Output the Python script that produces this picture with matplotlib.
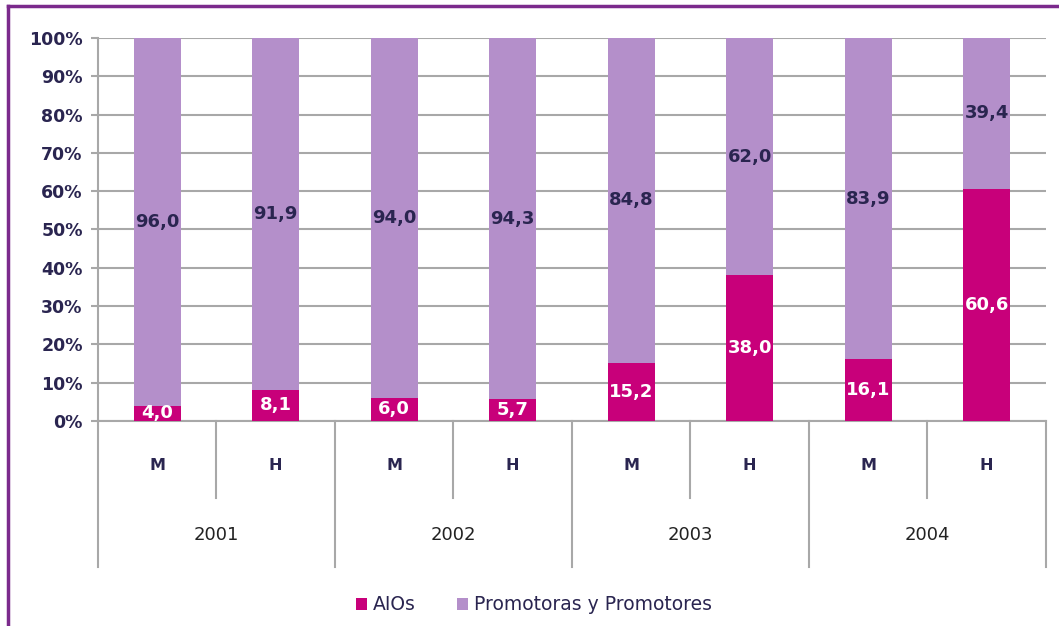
import numpy as np
import matplotlib.pyplot as plt
from matplotlib.lines import Line2D

years = ["2001", "2002", "2003", "2004"]
sexes = ["M", "H", "M", "H", "M", "H", "M", "H"]
aios = [4.0, 8.1, 6.0, 5.7, 15.2, 38.0, 16.1, 60.6]
promotores = [96.0, 91.9, 94.0, 94.3, 84.8, 62.0, 83.9, 39.4]

c_aios = "#c8007a"
c_prom = "#b48fca"
navy = "#2a2550"
grid_c = "#a8a8a8"

plt.rcParams['font.family'] = ['DejaVu Sans']

fig = plt.figure(figsize=(10.59, 6.26), dpi=100)
ax = fig.add_axes([0.0925, 0.3275, 0.8952, 0.6118])

x = np.arange(len(sexes)) + 0.5
b1 = ax.bar(x, aios, width=0.4, color=c_aios, label="AIOs", zorder=3)
b2 = ax.bar(x, promotores, width=0.4, bottom=aios, color=c_prom,
            label="Promotoras y Promotores", zorder=3)

fmt = lambda v: f"{v:.1f}".replace(".", ",")
ax.bar_label(b1, labels=[fmt(v) for v in aios], label_type="center",
             color="white", fontsize=13, fontweight="semibold", zorder=4)
ax.bar_label(b2, labels=[fmt(v) for v in promotores], label_type="center",
             color=navy, fontsize=13, fontweight="semibold", zorder=4)

ax.set_xlim(0, len(sexes))
ax.set_ylim(0, 100)
ax.set_yticks(range(0, 101, 10))
ax.set_yticklabels([f"{v}%" for v in range(0, 101, 10)],
                   fontsize=12.5, color=navy, fontweight="bold")
ax.yaxis.grid(True, color=grid_c, linewidth=1.5, zorder=0)
ax.tick_params(axis="y", length=5, width=1.5, color=grid_c, pad=6)
ax.set_xticks([])
for s in ["top", "right"]:
    ax.spines[s].set_visible(False)
ax.spines["left"].set_color(grid_c)
ax.spines["left"].set_linewidth(1.5)
ax.spines["bottom"].set_color(grid_c)
ax.spines["bottom"].set_linewidth(1.5)

# two-level category axis below the plot
trans = ax.get_xaxis_transform()
for xi, s in zip(x, sexes):
    ax.text(xi, -0.115, s, transform=trans, ha="center", va="center",
            fontsize=11.5, fontweight="bold", color=navy)
for i, y in enumerate(years):
    ax.text(2 * i + 1, -0.297, y, transform=trans, ha="center", va="center",
            fontsize=13, color="#222222")
for k in range(len(sexes) + 1):
    low = -0.38 if k % 2 == 0 else -0.2
    ax.add_line(Line2D([k, k], [0, low], transform=trans, color=grid_c,
                       linewidth=1.5, clip_on=False))

ax.legend(loc="center", bbox_to_anchor=(0.46, -0.48), ncol=2, frameon=False,
          fontsize=13.5, handlelength=0.6, handleheight=0.6, handletextpad=0.3,
          columnspacing=2.2, labelcolor=navy)

# purple frame on the left and top
fig.add_artist(Line2D([8 / 1059, 8 / 1059], [0, 1 - 6 / 626],
                      transform=fig.transFigure, color="#7b2a8c", linewidth=2.5))
fig.add_artist(Line2D([8 / 1059, 1], [1 - 6 / 626, 1 - 6 / 626],
                      transform=fig.transFigure, color="#7b2a8c", linewidth=2.5))

fig.savefig("out.png", dpi=100)
